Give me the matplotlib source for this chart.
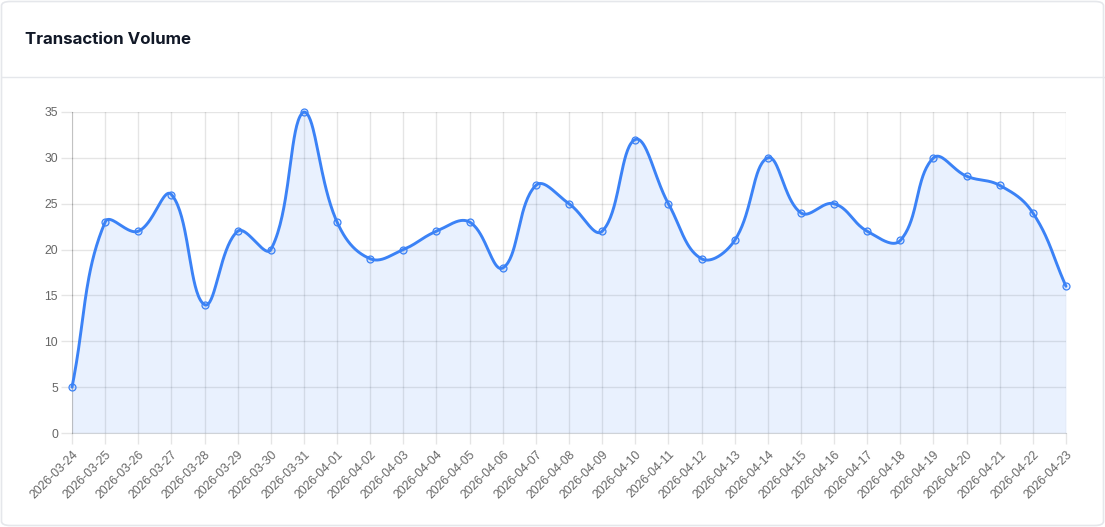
import numpy as np
import matplotlib.pyplot as plt
from matplotlib.patches import FancyBboxPatch
from matplotlib.lines import Line2D

dates = ['2026-03-24', '2026-03-25', '2026-03-26', '2026-03-27', '2026-03-28',
         '2026-03-29', '2026-03-30', '2026-03-31', '2026-04-01', '2026-04-02',
         '2026-04-03', '2026-04-04', '2026-04-05', '2026-04-06', '2026-04-07',
         '2026-04-08', '2026-04-09', '2026-04-10', '2026-04-11', '2026-04-12',
         '2026-04-13', '2026-04-14', '2026-04-15', '2026-04-16', '2026-04-17',
         '2026-04-18', '2026-04-19', '2026-04-20', '2026-04-21', '2026-04-22',
         '2026-04-23']
volume = [5, 23, 22, 26, 14, 22, 20, 35, 23, 19, 20, 22, 23, 18, 27, 25, 22,
          32, 25, 19, 21, 30, 24, 25, 22, 21, 30, 28, 27, 24, 16]
y_ticks = [0, 5, 10, 15, 20, 25, 30, 35]

title = 'Transaction Volume'
line_color = '#3b82f6'
W, H = 1105, 527

plt.rcParams['font.family'] = ['Liberation Sans', 'DejaVu Sans']

fig = plt.figure(figsize=(W / 100, H / 100), dpi=100)
fig.patch.set_facecolor('white')

# card frame, kept behind the axes
card = FancyBboxPatch((1.5 / W, 1.5 / H), (W - 3) / W, (H - 3) / H,
                      boxstyle='round,pad=0,rounding_size=0.008',
                      transform=fig.transFigure, facecolor='white',
                      edgecolor='#e5e7eb', linewidth=1.2, zorder=-5)
fig.patches.append(card)
fig.add_artist(Line2D([1.5 / W, (W - 1.5) / W], [1 - 77 / H, 1 - 77 / H],
                      transform=fig.transFigure, color='#e5e7eb', lw=1, zorder=-4))
fig.text(25 / W, 1 - 40 / H, title, fontsize=12.2, fontweight='bold',
         color='#111827', va='center', ha='left',
         family=['Inter', 'DejaVu Sans'])

left, right, top, bottom = 72, 1066, 112, 433
ax = fig.add_axes([left / W, 1 - bottom / H, (right - left) / W, (bottom - top) / H])
x = np.arange(len(dates))
ax.set_xlim(0, len(dates) - 1)
ax.set_ylim(0, 35)

# Chart.js style bezier (tension 0.4) worked out in pixel space
fig.canvas.draw()
pts = ax.transData.transform(np.column_stack([x, volume]))
n = len(pts)
t = 0.4
cp_prev = pts.copy()
cp_next = pts.copy()
for i in range(n):
    p0 = pts[max(i - 1, 0)]
    p1 = pts[i]
    p2 = pts[min(i + 1, n - 1)]
    d01 = np.hypot(*(p1 - p0))
    d12 = np.hypot(*(p2 - p1))
    tot = d01 + d12
    s01 = d01 / tot if tot else 0
    s12 = d12 / tot if tot else 0
    cp_prev[i] = p1 - t * s01 * (p2 - p0)
    cp_next[i] = p1 + t * s12 * (p2 - p0)
bb = ax.bbox
for cp in (cp_prev, cp_next):
    cp[:, 0] = np.clip(cp[:, 0], bb.x0, bb.x1)
    cp[:, 1] = np.clip(cp[:, 1], bb.y0, bb.y1)

s = np.linspace(0, 1, 40)[:, None]
curve = []
for i in range(n - 1):
    a, b, c, d = pts[i], cp_next[i], cp_prev[i + 1], pts[i + 1]
    seg = ((1 - s) ** 3) * a + 3 * ((1 - s) ** 2) * s * b + 3 * (1 - s) * s ** 2 * c + s ** 3 * d
    curve.append(seg if i == 0 else seg[1:])
curve = np.vstack(curve)
curve = ax.transData.inverted().transform(curve)

ax.fill_between(curve[:, 0], 0, curve[:, 1], color=line_color, alpha=0.11,
                linewidth=0, zorder=1)
ax.plot(curve[:, 0], curve[:, 1], color=line_color, lw=2.1, zorder=3,
        solid_capstyle='round', clip_on=False)
ax.plot(x, volume, 'o', ms=5, mfc=(0.23, 0.51, 0.96, 0.12),
        mec=line_color, mew=0.9, zorder=4, clip_on=False)

ax.set_xticks(x)
ax.set_xticklabels(dates, rotation=45, ha='right', rotation_mode='anchor')
ax.set_yticks(y_ticks)
ax.grid(True, color='#000000', alpha=0.1, lw=1)
ax.set_axisbelow(True)
ax.tick_params(axis='both', colors=(0, 0, 0, 0.1), labelcolor='#666666',
               labelsize=8.8, length=8, width=1)
ax.tick_params(axis='x', pad=3)
ax.tick_params(axis='y', pad=2)
for side in ['top', 'right']:
    ax.spines[side].set_visible(False)
for side in ['left', 'bottom']:
    ax.spines[side].set_color((0, 0, 0, 0.15))
ax.set_facecolor('none')

fig.savefig('out.png', dpi=100)
